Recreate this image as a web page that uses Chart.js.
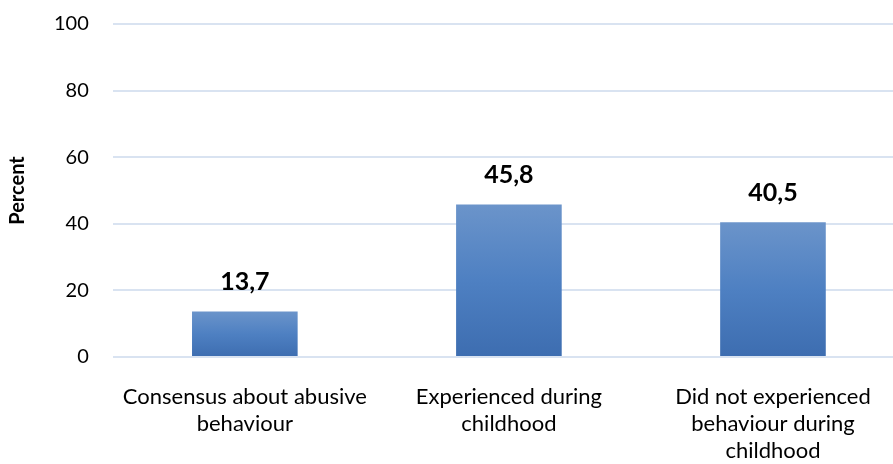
<!DOCTYPE html>
<html>
<head>
<meta charset="utf-8">
<script src="https://cdn.jsdelivr.net/npm/chart.js@4/dist/chart.umd.min.js"></script>
<style>
  html, body { margin: 0; padding: 0; background: #fff; overflow: hidden; }
  #wrap { width: 905px; height: 464px; }
</style>
</head>
<body>
<div id="wrap"><canvas id="barChart"></canvas></div>
<script>
// Chart data
const categories = [
    ['Consensus about abusive', 'behaviour'],
    ['Experienced during', 'childhood'],
    ['Did not experienced', 'behaviour during', 'childhood']
];
const percentValues = [13.7, 45.8, 40.5];
const yTicks = [0, 20, 40, 60, 80, 100];

const fontFamily = "Lato, 'Open Sans', sans-serif";

// per-bar vertical gradient, lighter at the top
function barGradient(context) {
    const chart = context.chart;
    const yScale = chart.scales.y;
    if (!chart.chartArea || !yScale || context.parsed === undefined) return '#4f7fc0';
    const top = yScale.getPixelForValue(context.parsed.y);
    const bottom = yScale.getPixelForValue(0);
    const g = chart.ctx.createLinearGradient(0, top, 0, bottom);
    g.addColorStop(0, '#6b94ca');
    g.addColorStop(0.5, '#4e80c2');
    g.addColorStop(1, '#3d6db0');
    return g;
}

// values above bars
const valueLabels = {
    id: 'valueLabels',
    afterDatasetsDraw(chart) {
        const ctx = chart.ctx;
        const meta = chart.getDatasetMeta(0);
        ctx.save();
        ctx.font = 'bold 25px ' + fontFamily;
        ctx.fillStyle = '#000';
        ctx.textAlign = 'center';
        ctx.textBaseline = 'alphabetic';
        meta.data.forEach((bar, i) => {
            const txt = percentValues[i].toFixed(1).replace('.', ',');
            ctx.fillText(txt, bar.x, bar.y - 21);
        });
        ctx.restore();
    }
};

const ctx = document.getElementById('barChart').getContext('2d');
const barChart = new Chart(ctx, {
    type: 'bar',
    data: {
        labels: categories,
        datasets: [{
            data: percentValues,
            backgroundColor: barGradient,
            borderWidth: 0,
            categoryPercentage: 1,
            barPercentage: 0.4
        }]
    },
    options: {
        responsive: true,
        maintainAspectRatio: false,
        animation: false,
        layout: { padding: { top: 24, left: 1, right: 0, bottom: 0 } },
        plugins: {
            legend: { display: false },
            tooltip: { enabled: false }
        },
        scales: {
            x: {
                grid: { display: false, drawTicks: false },
                border: { display: false },
                afterFit(scale) { scale.height = 107; },
                ticks: {
                    color: '#000',
                    font: { family: fontFamily, size: 22, lineHeight: '27px' },
                    padding: 26,
                    maxRotation: 0,
                    autoSkip: false
                }
            },
            y: {
                min: 0,
                max: 100,
                afterBuildTicks(scale) {
                    scale.ticks = yTicks.map(v => ({ value: v }));
                },
                afterFit(scale) { scale.paddingTop = 0; scale.paddingBottom = 0; },
                grid: { color: '#d9e3f1', lineWidth: 2, drawTicks: false },
                border: { display: false },
                ticks: {
                    color: '#000',
                    font: { family: fontFamily, size: 20 },
                    padding: 24
                },
                title: {
                    display: true,
                    text: 'Percent',
                    color: '#000',
                    font: { family: fontFamily, size: 20, weight: 'bold' },
                    padding: { top: 5, bottom: 0 }
                }
            }
        }
    },
    plugins: [valueLabels]
});
</script>
</body>
</html>
